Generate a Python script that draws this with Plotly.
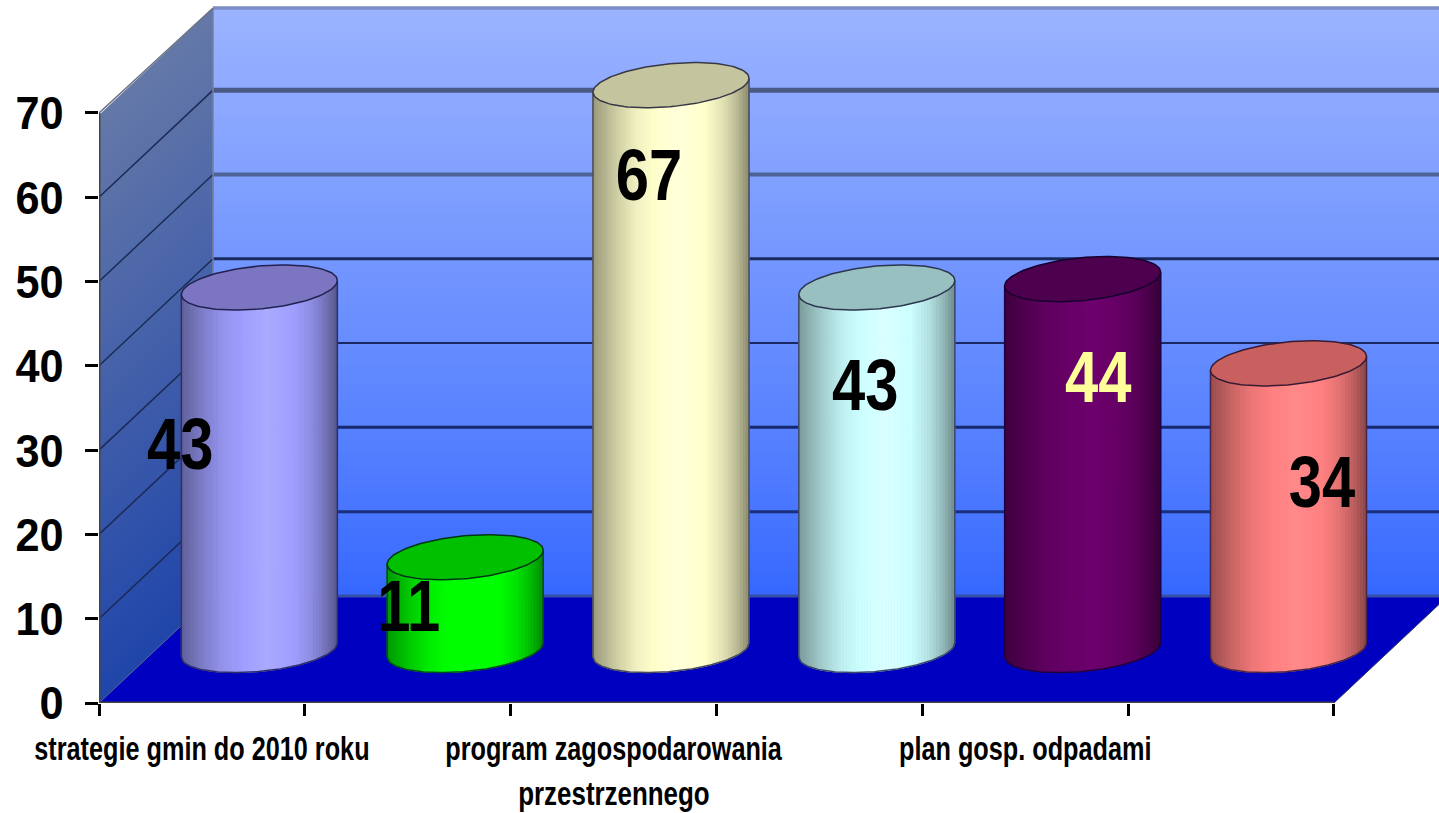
import numpy as np
import plotly.graph_objects as go

# ---- data ----
values = [43, 11, 67, 43, 44, 34]
axis_labels = ["strategie gmin do 2010 roku", "program zagospodarowania", "plan gosp. odpadami"]
axis_label_slots = [0.5, 2.5, 4.5]
axis_label_extra = "przestrzennego"
y_ticks = [0, 10, 20, 30, 40, 50, 60, 70]

# ---- styles ----
body_colors = ["#9f9fff", "#00ff00", "#ffffcc", "#ccffff", "#660066", "#ff8080"]
top_colors = ["#7b75c2", "#00c000", "#c4c49e", "#99c0c0", "#4d004d", "#c86060"]
label_colors = ["#000000", "#000000", "#000000", "#000000", "#ffff99", "#000000"]
label_dx = [-0.105, 0.005, 0.172, 0.223, 0.355, 0.442]
label_y = [29.85, 10.7, 61.85, 36.9, 37.8, 25.4]
FONT = "Liberation Sans, Arial, sans-serif"

PX_X = 205.83
PX_Y = 8.43
W, H = 1439, 813
ML, MB = 99, 110
x_max = (W - ML) / PX_X
y_max = (H - MB) / PX_Y
DEPTH_X, DEPTH_Y = 0.554, 12.7      # 3-D wall offset in axis units
TOP = 82.44                          # back wall top, axis units
RX, RY, SHEAR = 0.379, 2.55, 0.83    # cylinder ellipse in axis units


def rgb(h):
    return np.array([int(h[i:i + 2], 16) for i in (1, 3, 5)], float)


def hexc(c):
    c = np.clip(np.round(c), 0, 255).astype(int)
    return "#%02x%02x%02x" % tuple(c)


def mix(a, b, t):
    return hexc(rgb(a) * (1 - t) + rgb(b) * t)


shade_u = [0, 0.06, 0.15, 0.28, 0.4, 0.55, 0.72, 0.84, 0.93, 1]
shade_k = [0.6, 0.68, 0.8, 0.94, 1.0, 1.07, 1.0, 0.88, 0.72, 0.55]

shapes = []


def path(points):
    return "M" + " L".join(f"{x:.4f},{y:.4f}" for x, y in points) + " Z"


# back wall gradient (painter's order, from the top down)
levels = np.linspace(TOP, DEPTH_Y, 70)
for v in levels:
    t = (v - DEPTH_Y) / (TOP - DEPTH_Y)
    shapes.append(dict(type="rect", xref="x", yref="y", x0=DEPTH_X, x1=x_max, y0=DEPTH_Y, y1=v,
                       fillcolor=mix("#3366ff", "#9ab3ff", t ** 0.85), line_width=0, layer="below"))
# left wall gradient
for v in np.linspace(TOP - DEPTH_Y, 0, 70)[:-1]:
    t = v / (TOP - DEPTH_Y)
    shapes.append(dict(type="path", xref="x", yref="y",
                       path=path([(0, v), (DEPTH_X, v + DEPTH_Y), (DEPTH_X, DEPTH_Y), (0, 0)]),
                       fillcolor=mix("#1f45aa", "#6478a8", t), line_width=0, layer="below"))
# floor
shapes.append(dict(type="path", xref="x", yref="y",
                   path=path([(0, 0), (6, 0), (6 + DEPTH_X, DEPTH_Y), (DEPTH_X, DEPTH_Y)]),
                   fillcolor="#0000c0", line_width=0, layer="below"))


def seg(x0, y0, x1, y1, color, width):
    shapes.append(dict(type="line", xref="x", yref="y", x0=x0, y0=y0, x1=x1, y1=y1,
                       line=dict(color=color, width=width), layer="below"))


# back-wall grid lines
grid_style = {10: ("#1a2f7a", 3), 20: ("#16296e", 3), 30: ("#1a2a60", 2), 40: ("#1a2a60", 3),
              50: ("#4f6296", 4), 60: ("#4a5a85", 5)}
for v, (c, w) in grid_style.items():
    seg(DEPTH_X, v + DEPTH_Y, x_max, v + DEPTH_Y, c, w)
    seg(0, v, DEPTH_X, v + DEPTH_Y, "#1c2a55", 1.5)
seg(DEPTH_X, DEPTH_Y, x_max, DEPTH_Y, "#3650a8", 3)
seg(DEPTH_X, TOP, x_max, TOP, "#7b8dc4", 3.5)
seg(DEPTH_X, DEPTH_Y, DEPTH_X, TOP, "#76829f", 1.5)
seg(0, 70, DEPTH_X, TOP, "#6a7080", 1.5)
seg(0, 0, DEPTH_X, DEPTH_Y, "#5a6a90", 1)
seg(6, 0, 6 + DEPTH_X, DEPTH_Y, "#333366", 1)
seg(0, 0, 0, 70, "#444444", 3)
seg(0, 0, 6, 0, "#444444", 3)

fig = go.Figure()


def add_poly(xs, ys, fill, line=None, width=1):
    fig.add_trace(go.Scatter(x=xs, y=ys, mode="lines", fill="toself", fillcolor=fill,
                             line=dict(color=line or fill, width=width),
                             hoverinfo="skip", showlegend=False))


N_STRIPS = 52
for i, val in enumerate(values):
    cx = i + 0.5 + DEPTH_X / 2 + 0.002
    c_bot = DEPTH_Y / 2 - 0.06
    c_top = c_bot + val
    body = rgb(body_colors[i])

    def arc(u):
        s = 2 * u - 1
        return SHEAR * s - RY * np.sqrt(np.clip(1 - s * s, 0, 1))

    edges = np.linspace(0, 1, N_STRIPS + 1)
    for j in range(N_STRIPS):
        us = np.linspace(edges[j], edges[j + 1], 4)
        k = np.interp(us.mean(), shade_u, shade_k)
        color = hexc(body * k)
        xs = cx + RX * (2 * us - 1)
        low = c_bot + arc(us)
        high = c_top + arc(us)
        add_poly(np.r_[xs, xs[::-1], xs[0]], np.r_[low, high[::-1], low[0]], color)

    edge = mix(body_colors[i], "#000033", 0.72)
    # outline: sides and front arc of the base
    us = np.linspace(0, 1, 90)
    xs = cx + RX * (2 * us - 1)
    fig.add_trace(go.Scatter(x=xs, y=c_bot + arc(us), mode="lines", line=dict(color=edge, width=1.5),
                             hoverinfo="skip", showlegend=False))
    for side in (0, 1):
        sx = cx + RX * (2 * side - 1)
        sh = SHEAR * (2 * side - 1)
        fig.add_trace(go.Scatter(x=[sx, sx], y=[c_bot + sh, c_top + sh], mode="lines",
                                 line=dict(color=edge, width=1.5), hoverinfo="skip", showlegend=False))
    # top ellipse
    t = np.linspace(0, 2 * np.pi, 120)
    add_poly(cx + RX * np.cos(t), c_top + SHEAR * np.cos(t) + RY * np.sin(t), top_colors[i],
             line=mix(top_colors[i], "#000022", 0.72), width=1.5)

# value labels
fig.add_trace(go.Scatter(
    x=[i + 0.5 + d for i, d in enumerate(label_dx)], y=label_y, mode="text",
    text=[str(v) for v in values],
    textfont=dict(family=FONT, size=72, color=label_colors, weight="bold"),
    textposition="middle center", hoverinfo="skip", showlegend=False))

fig.update_layout(
    width=W, height=H, autosize=False,
    margin=dict(l=ML, r=0, t=0, b=MB, pad=0, autoexpand=False),
    paper_bgcolor="white", plot_bgcolor="white", showlegend=False,
    shapes=shapes,
    xaxis=dict(range=[0, x_max], fixedrange=True, showgrid=False, zeroline=False, showline=False,
               automargin=False, tickangle=0,
               tickmode="array", tickvals=axis_label_slots, ticktext=axis_labels, ticks="",
               ticklabelstandoff=23, ticklabeloverflow="allow",
               tickfont=dict(family=FONT, size=33, color="black", weight="bold"),
               minor=dict(ticks="outside", tickvals=[0, 1, 2, 3, 4, 5, 6], ticklen=12,
                          tickwidth=2.5, tickcolor="black", showgrid=False)),
    yaxis=dict(range=[0, y_max], fixedrange=True, showgrid=False, zeroline=False, showline=False,
               automargin=False,
               tickmode="array", tickvals=y_ticks, ticks="outside", ticklen=13, tickwidth=3,
               tickcolor="black", ticklabelstandoff=12,
               tickfont=dict(family=FONT, size=47, color="black", weight="bold")),
    annotations=[dict(x=axis_label_slots[1], y=0, xref="x", yref="y", yshift=-90, yanchor="middle",
                      xanchor="center", text=axis_label_extra, showarrow=False,
                      font=dict(family=FONT, size=33, color="black", weight="bold"))],
)

# The reference text is a condensed face that is not installed: condense the real text in place.
post = """
document.body.style.margin = '0';
function squeeze(sel, k) {
  document.querySelectorAll(sel).forEach(function (t) {
    var n = t.getComputedTextLength();
    t.setAttribute('lengthAdjust', 'spacingAndGlyphs');
    t.setAttribute('textLength', n * k);
  });
}
squeeze('.xtick text', 0.765);
squeeze('.annotation-text', 0.785);
squeeze('.ytick text', 0.92);
squeeze('.textpoint text', 0.83);
"""
fig.write_html("out.html", post_script=post, config={"displayModeBar": False})
